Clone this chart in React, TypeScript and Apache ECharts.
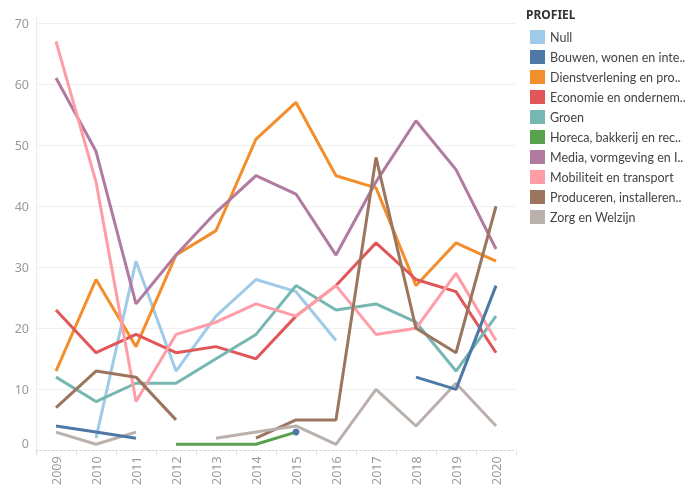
import React, { useEffect, useRef } from "react";
import * as echarts from "echarts";

const years = ["2009", "2010", "2011", "2012", "2013", "2014", "2015", "2016", "2017", "2018", "2019", "2020"];

const seriesNames = [
  "Null",
  "Bouwen, wonen en inte..",
  "Dienstverlening en pro..",
  "Economie en ondernem..",
  "Groen",
  "Horeca, bakkerij en rec..",
  "Media, vormgeving en I..",
  "Mobiliteit en transport",
  "Produceren, installeren..",
  "Zorg en Welzijn",
];

const colors = ["#a0cbe8", "#4e79a7", "#f28e2b", "#e15759", "#76b7b2", "#59a14f", "#b07aa1", "#ff9da7", "#9c755f", "#bab0ac"];

const nullValues = [null, 2, 31, 13, 22, 28, 26, 18, null, null, null, null];
const bouwenValues = [4, 3, 2, null, null, null, 3, null, null, 12, 10, 27];
const dienstValues = [13, 28, 17, 32, 36, 51, 57, 45, 43, 27, 34, 31];
const economieValues = [23, 16, 19, 16, 17, 15, 22, 27, 34, 28, 26, 16];
const groenValues = [12, 8, 11, 11, 15, 19, 27, 23, 24, 21, 13, 22];
const horecaValues = [null, null, null, 1, 1, 1, 3, null, null, null, null, null];
const mediaValues = [61, 49, 24, 32, 39, 45, 42, 32, 44, 54, 46, 33];
const mobiliteitValues = [67, 44, 8, 19, 21, 24, 22, 27, 19, 20, 29, 18];
const producerenValues = [7, 13, 12, 5, null, 2, 5, 5, 48, 20, 16, 40];
const zorgValues = [3, 1, 3, null, 2, 3, 4, 1, 10, 4, 11, 4];

const allValues = [
  nullValues,
  bouwenValues,
  dienstValues,
  economieValues,
  groenValues,
  horecaValues,
  mediaValues,
  mobiliteitValues,
  producerenValues,
  zorgValues,
];

const yTicks = [0, 10, 20, 30, 40, 50, 60, 70];

const FONT = "Noto Sans";
const LEGEND_FONT = "Lato";

function toData(vals: (number | null)[]) {
  return vals.map((v, i) => {
    if (v === null) return null;
    const prev = i > 0 ? vals[i - 1] : null;
    const next = i < vals.length - 1 ? vals[i + 1] : null;
    if (prev === null && next === null) {
      return { value: v, symbol: "circle", symbolSize: 7 };
    }
    return v;
  });
}

export default function App() {
  const ref = useRef<HTMLDivElement>(null);
  useEffect(() => {
    if (!ref.current) return;
    const chart = echarts.init(ref.current, null, { renderer: "svg" });
    chart.setOption({
      animation: false,
      color: colors,
      textStyle: { fontFamily: FONT },
      grid: { left: 36, right: 169, top: 17, bottom: 36, containLabel: false },
      graphic: [
        {
          type: "text",
          left: 526,
          top: 8,
          style: { text: "PROFIEL", fill: "#333", font: `bold 12px "${FONT}"` },
        },
      ],
      legend: {
        orient: "vertical",
        left: 525,
        top: 25,
        itemWidth: 15,
        itemHeight: 14,
        itemGap: 6,
        icon: "rect",
        selectedMode: false,
        textStyle: { color: "#444", fontSize: 12.5, fontFamily: LEGEND_FONT },
        data: seriesNames.map((n) => ({ name: n, icon: "rect" })),
      },
      xAxis: {
        type: "category",
        data: years,
        boundaryGap: true,
        axisLine: { show: true, lineStyle: { color: "#d4d4d4", type: [2, 2], width: 1 } },
        axisTick: { show: true, length: 5, lineStyle: { color: "#e2e2e2" } },
        axisLabel: { rotate: 90, color: "#9a9a9a", fontSize: 12.5, fontFamily: FONT, margin: 6 },
        splitLine: { show: false },
      },
      yAxis: {
        type: "value",
        min: yTicks[0],
        max: 71,
        interval: 10,
        axisLine: { show: true, lineStyle: { color: "#ececec" } },
        axisTick: { show: false },
        axisLabel: {
          color: "#999",
          fontSize: 12.5,
          fontFamily: FONT,
          margin: 7,
          showMaxLabel: false,
          verticalAlignMinLabel: "bottom",
        },
        splitLine: { show: true, showMaxLine: false, showMinLine: false, lineStyle: { color: "#f0f0f0" } },
      },
      series: allValues.map((vals, i) => ({
        name: seriesNames[i],
        type: "line",
        data: toData(vals),
        symbol: "none",
        showSymbol: true,
        connectNulls: false,
        z: i === 1 ? 5 : 2,
        lineStyle: { width: 3, color: colors[i] },
        itemStyle: { color: colors[i] },
      })),
    });
    return () => chart.dispose();
  }, []);
  return <div ref={ref} style={{ position: "fixed", left: 0, top: 0, width: 685, height: 488 }} />;
}
